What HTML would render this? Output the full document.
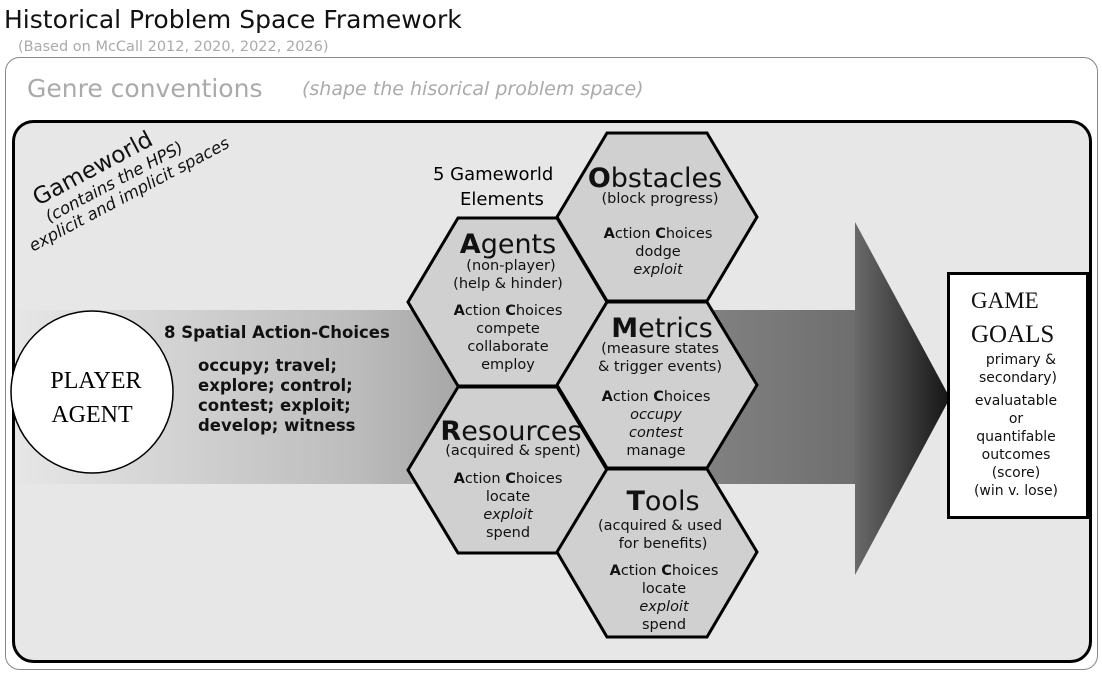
<!DOCTYPE html>
<html><head><meta charset="utf-8"><style>
body{margin:0;background:#fff;width:1102px;height:678px;overflow:hidden}
svg{display:block;font-family:"DejaVu Sans","Liberation Sans",sans-serif}
</style></head><body>
<svg width="1102" height="678" viewBox="0 0 1102 678">
<defs>
<linearGradient id="band" x1="0" x2="1" y1="0" y2="0">
<stop offset="0" stop-color="#e6e6e6"/><stop offset="0.4" stop-color="#bdbdbd"/><stop offset="0.6" stop-color="#9a9a9a"/><stop offset="1" stop-color="#6e6e6e"/>
</linearGradient>
<linearGradient id="head" x1="0" x2="1" y1="0" y2="0">
<stop offset="0" stop-color="#6a6a6a"/><stop offset="1" stop-color="#151515"/>
</linearGradient>
</defs>
<text x="4" y="28" font-size="25" fill="#111">Historical Problem Space Framework</text>
<text x="18" y="51" font-size="14.5" fill="#aaa">(Based on McCall 2012, 2020, 2022, 2026)</text>
<rect x="5.5" y="57.5" width="1092" height="612" rx="14" fill="#fff" stroke="#888" stroke-width="1"/>
<text x="27" y="97" font-size="25" fill="#aaa">Genre conventions</text>
<text x="302" y="95" font-size="19" fill="#aaa" font-style="italic">(shape the hisorical problem space)</text>
<rect x="13.5" y="121.5" width="1077" height="540" rx="20" fill="#e7e7e7" stroke="#000" stroke-width="3"/>
<g transform="translate(38,206) rotate(-28)" fill="#111">
<text x="0" y="0" font-size="23">Gameworld</text>
<text x="2" y="20" font-size="16.5" font-style="italic">(contains the HPS)</text>
<text x="-26" y="38" font-size="16.5" font-style="italic">explicit and implicit spaces</text>
</g>
<rect x="16" y="310" width="840" height="174" fill="url(#band)"/>
<polygon points="855,222 950,398 855,575" fill="url(#head)"/>
<circle cx="92" cy="392" r="81" fill="#fff" stroke="#000" stroke-width="1.5"/>
<text x="96" y="388" font-size="24" font-family="Liberation Serif,serif" text-anchor="middle">PLAYER</text>
<text x="92" y="422" font-size="24" font-family="Liberation Serif,serif" text-anchor="middle">AGENT</text>
<g font-size="16.5" font-weight="bold" fill="#111">
<text x="164" y="338">8 Spatial Action-Choices</text>
<text x="198" y="371">occupy; travel;</text>
<text x="198" y="391">explore; control;</text>
<text x="198" y="411">contest; exploit;</text>
<text x="198" y="431">develop; witness</text>
</g>
<text x="433" y="180" font-size="18">5 Gameworld</text>
<text x="460" y="205" font-size="18">Elements</text>
<g fill="#d0d0d0" stroke="#000" stroke-width="3" stroke-linejoin="miter">
<polygon points="607,133 707,133 757,217 707,301 607,301 557,217"/>
<polygon points="458,218 557,218 607,302 557,386 458,386 408,302"/>
<polygon points="607,302 707,302 757,385 707,468 607,468 557,385"/>
<polygon points="458,387 557,387 607,470 557,553 458,553 408,470"/>
<polygon points="607,469 707,469 757,552 707,637 607,637 557,552"/>
</g>
<g text-anchor="middle" fill="#111" font-size="14.5" transform="translate(0,4)">
<text x="655" y="183" font-size="27"><tspan font-weight="bold">O</tspan>bstacles</text>
<text x="660" y="199">(block progress)</text>
<text x="658" y="234"><tspan font-weight="bold">A</tspan>ction <tspan font-weight="bold">C</tspan>hoices</text>
<text x="658" y="252">dodge</text>
<text x="658" y="270" font-style="italic">exploit</text>

<text x="508" y="249" font-size="27"><tspan font-weight="bold">A</tspan>gents</text>
<text x="511" y="266">(non-player)</text>
<text x="508" y="284">(help &amp; hinder)</text>
<text x="508" y="311"><tspan font-weight="bold">A</tspan>ction <tspan font-weight="bold">C</tspan>hoices</text>
<text x="508" y="329">compete</text>
<text x="508" y="347">collaborate</text>
<text x="508" y="365">employ</text>

<text x="662" y="333" font-size="27"><tspan font-weight="bold">M</tspan>etrics</text>
<text x="660" y="349">(measure states</text>
<text x="660" y="367">&amp; trigger events)</text>
<text x="656" y="397"><tspan font-weight="bold">A</tspan>ction <tspan font-weight="bold">C</tspan>hoices</text>
<text x="656" y="415" font-style="italic">occupy</text>
<text x="656" y="433" font-style="italic">contest</text>
<text x="656" y="451">manage</text>

<text x="511" y="436" font-size="27"><tspan font-weight="bold">R</tspan>esources</text>
<text x="513" y="451">(acquired &amp; spent)</text>
<text x="508" y="479"><tspan font-weight="bold">A</tspan>ction <tspan font-weight="bold">C</tspan>hoices</text>
<text x="508" y="497">locate</text>
<text x="508" y="515" font-style="italic">exploit</text>
<text x="508" y="533">spend</text>

<text x="663" y="506" font-size="27"><tspan font-weight="bold">T</tspan>ools</text>
<text x="660" y="526">(acquired &amp; used</text>
<text x="663" y="544">for benefits)</text>
<text x="664" y="571"><tspan font-weight="bold">A</tspan>ction <tspan font-weight="bold">C</tspan>hoices</text>
<text x="664" y="589">locate</text>
<text x="664" y="607" font-style="italic">exploit</text>
<text x="664" y="625">spend</text>
</g>
<rect x="948.5" y="273.5" width="139" height="244" fill="#fff" stroke="#000" stroke-width="3"/>
<g fill="#111">
<text x="971" y="308" font-size="23" font-family="Liberation Serif,serif">GAME</text>
<text x="971" y="342" font-size="25" font-family="Liberation Serif,serif">GOALS</text>
<g font-size="14" text-anchor="middle">
<text x="1021" y="364">primary &amp;</text>
<text x="1018" y="382">secondary)</text>
<text x="1016" y="405">evaluatable</text>
<text x="1016" y="423">or</text>
<text x="1016" y="441">quantifable</text>
<text x="1016" y="459">outcomes</text>
<text x="1016" y="477">(score)</text>
<text x="1016" y="495">(win v. lose)</text>
</g></g>
</svg>
</body></html>
